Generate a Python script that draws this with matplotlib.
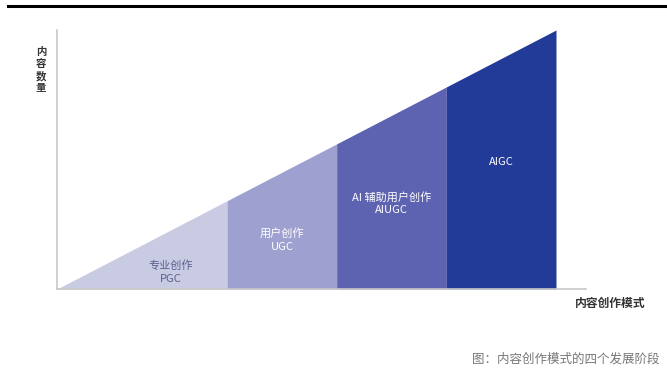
import matplotlib
matplotlib.use("Agg")
import matplotlib.pyplot as plt
from matplotlib.lines import Line2D

plt.rcParams['font.family'] = ['Noto Sans CJK SC', 'DejaVu Sans']

# four stages of content creation, widths along the x axis
stages = ["专业创作\nPGC", "用户创作\nUGC", "AI 辅助用户创作\nAIUGC", "AIGC"]
stage_widths = [1.55, 1.0, 1.0, 1.0]
stage_colors = ["#c9cbe3", "#9ea1cf", "#5d63b1", "#223a98"]
text_colors = ["#5b6090", "white", "white", "white"]
label_x = [0.67, 0.5, 0.5, 0.5]
label_heights = [0.066, 0.19, 0.33, 0.49]

W, H = 667, 385
fig = plt.figure(figsize=(W / 100, H / 100), dpi=100)

x0, y0, x1, y1 = 57, 289, 586, 30
ax = fig.add_axes([x0 / W, 1 - y0 / H, (x1 - x0) / W, (y0 - y1) / H])
total = sum(stage_widths)
ax.set_xlim(0, total * (x1 - x0) / 499)
ax.set_ylim(0, 1)

left = 0
for name, w, c, tc, lx, ly in zip(stages, stage_widths, stage_colors, text_colors,
                                  label_x, label_heights):
    xs = [left, left + w]
    ys = [left / total, (left + w) / total]
    ax.fill_between(xs, 0, ys, color=c, lw=0)
    ax.text(left + w * lx, ly, name, ha="center", va="center", fontsize=8,
            color=tc, linespacing=1.35)
    left += w

for s in ["top", "right"]:
    ax.spines[s].set_visible(False)
for s in ["left", "bottom"]:
    ax.spines[s].set_color("#c8c8c8")
    ax.spines[s].set_linewidth(1.2)
ax.set_xticks([])
ax.set_yticks([])

fig.text(41 / W, 1 - 70 / H, "内\n容\n数\n量", ha="center", va="center",
         fontsize=7.5, fontweight="bold", color="#333333", linespacing=1.25)
fig.text(610 / W, 1 - 303 / H, "内容创作模式", ha="center", va="center",
         fontsize=8.5, fontweight="bold", color="#333333")
fig.text(472 / W, 1 - 359 / H, "图：内容创作模式的四个发展阶段", ha="left", va="center",
         fontsize=9, color="#777777")

fig.add_artist(Line2D([8 / W, 1], [1 - 6 / H, 1 - 6 / H], color="black", lw=2.2,
                      transform=fig.transFigure))

fig.savefig("out.png", dpi=100, facecolor="white")
